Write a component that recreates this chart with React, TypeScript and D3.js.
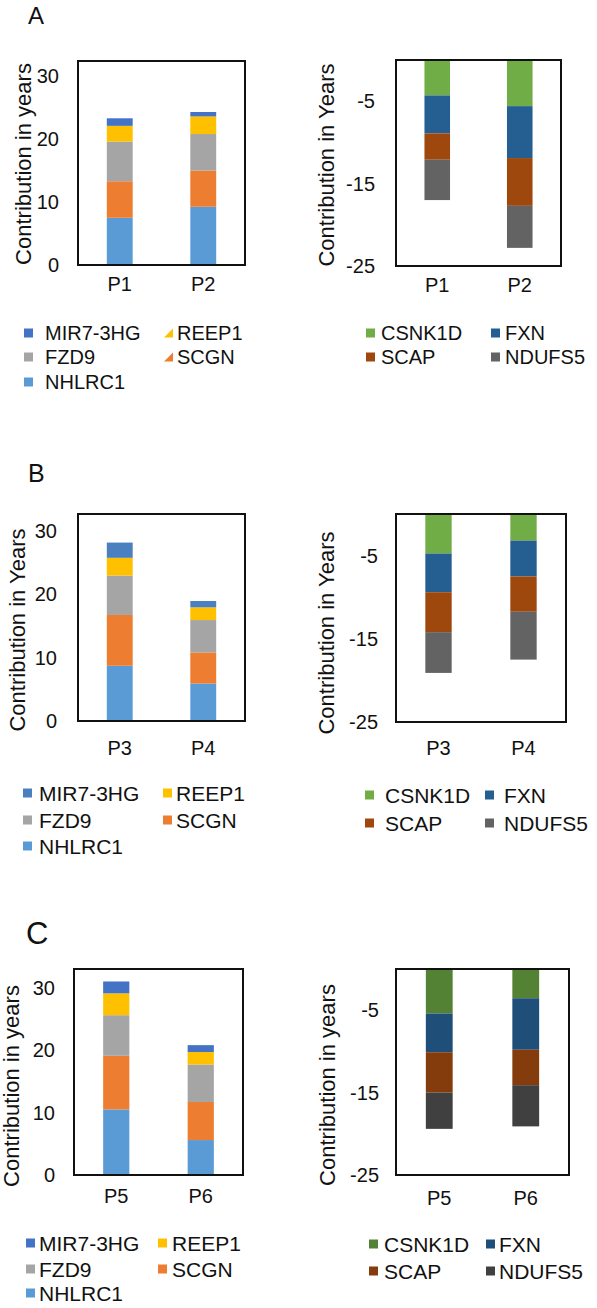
import React from "react";
import * as d3 from "d3";

// ---------- data ----------
const patients = ["P1", "P2", "P3", "P4", "P5", "P6"];
const panelLetters = ["A", "B", "C"];

// positive contributions (years), bottom -> top
const NHLRC1 = [7.5, 9.25, 8.7, 5.9, 10.5, 5.6];
const SCGN = [5.8, 5.75, 8.0, 4.9, 8.6, 6.1];
const FZD9 = [6.3, 5.8, 6.2, 5.1, 6.5, 6.0];
const REEP1 = [2.5, 2.8, 2.8, 2.0, 3.5, 2.0];
const MIR7_3HG = [1.2, 0.7, 2.4, 1.0, 1.9, 1.1];

// negative contributions (years), top -> bottom
const CSNK1D = [-4.3, -5.6, -4.75, -3.2, -5.4, -3.55];
const FXN = [-4.6, -6.3, -4.65, -4.3, -4.7, -6.25];
const SCAP = [-3.2, -5.8, -4.8, -4.25, -4.9, -4.3];
const NDUFS5 = [-4.9, -5.1, -4.9, -5.75, -4.4, -5.0];

const posKeys = ["NHLRC1", "SCGN", "FZD9", "REEP1", "MIR7-3HG"];
const negKeys = ["CSNK1D", "FXN", "SCAP", "NDUFS5"];
const posSeries: Record<string, number[]> = {
  NHLRC1, SCGN, FZD9, REEP1, "MIR7-3HG": MIR7_3HG,
};
const negSeries: Record<string, number[]> = { CSNK1D, FXN, SCAP, NDUFS5 };

const posTicks = [0, 10, 20, 30];
const negTicks = [-5, -15, -25];

const leftTitles = ["Contribution in years", "Contribution in Years", "Contribution in years"];
const rightTitles = ["Contribution in Years", "Contribution in Years", "Contribution in years"];

// legend order (row-major, 2 columns)
const posLegend = ["MIR7-3HG", "REEP1", "FZD9", "SCGN", "NHLRC1"];
const negLegend = ["CSNK1D", "FXN", "SCAP", "NDUFS5"];

// ---------- styles ----------
const FONT = "'Liberation Sans', Arial, Helvetica, sans-serif";

const posColors = [
  { NHLRC1: "#5B9BD5", SCGN: "#ED7D31", FZD9: "#A5A5A5", REEP1: "#FFC000", "MIR7-3HG": "#4472C4" },
  { NHLRC1: "#5B9BD5", SCGN: "#ED7D31", FZD9: "#A5A5A5", REEP1: "#FFC000", "MIR7-3HG": "#4A80BF" },
  { NHLRC1: "#5B9BD5", SCGN: "#ED7D31", FZD9: "#A5A5A5", REEP1: "#FFC000", "MIR7-3HG": "#4472C4" },
];
const negColors = [
  { CSNK1D: "#70AD47", FXN: "#255E91", SCAP: "#9E480E", NDUFS5: "#636363" },
  { CSNK1D: "#70AD47", FXN: "#255E91", SCAP: "#9E480E", NDUFS5: "#636363" },
  { CSNK1D: "#548235", FXN: "#1F4E79", SCAP: "#843C0C", NDUFS5: "#404040" },
];

type Frame = { x0: number; x1: number; y0: number; y1: number };

const layout = [
  {
    letter: { x: 28, y: 24, size: 24 },
    left: { x0: 78, x1: 245, y0: 61, y1: 265 }, leftMax: 32.4,
    right: { x0: 396, x1: 561, y0: 60, y1: 266 },
    leftTickX: 59, rightTickX: 375,
    leftTitle: { x: 31, y: 164, size: 22 }, rightTitle: { x: 334, y: 165, size: 22 },
    labelY: 291, rightLabelY: 292,
    legL: { sq: [24, 164], tx: [45, 177], rows: [333, 357, 382], size: 20, tri: true },
    legR: { sq: [366, 491], tx: [381, 505], rows: [333, 357], size: 20 },
  },
  {
    letter: { x: 28, y: 482, size: 25 },
    left: { x0: 78, x1: 245, y0: 514, y1: 721 }, leftMax: 32.6,
    right: { x0: 396, x1: 566, y0: 514, y1: 722 },
    leftTickX: 57, rightTickX: 378,
    leftTitle: { x: 25, y: 630, size: 22 }, rightTitle: { x: 334, y: 633, size: 22 },
    labelY: 755, rightLabelY: 755,
    legL: { sq: [23, 163], tx: [39, 176], rows: [793, 820, 846], size: 21, tri: false },
    legR: { sq: [365, 485], tx: [385, 504], rows: [795, 823], size: 21 },
  },
  {
    letter: { x: 26, y: 944, size: 31 },
    left: { x0: 74, x1: 243, y0: 969, y1: 1175 }, leftMax: 33,
    right: { x0: 396, x1: 569, y0: 969, y1: 1175 },
    leftTickX: 55, rightTickX: 379,
    leftTitle: { x: 19, y: 1086, size: 22 }, rightTitle: { x: 335, y: 1085, size: 22 },
    labelY: 1203, rightLabelY: 1205,
    legL: { sq: [26, 158], tx: [39, 172], rows: [1243, 1269, 1293], size: 21, tri: false },
    legR: { sq: [369, 486], tx: [384, 499], rows: [1244, 1271], size: 21 },
  },
];

function StackedChart(props: {
  cats: string[];
  idx: number[];
  keys: string[];
  series: Record<string, number[]>;
  colors: Record<string, string>;
  frame: Frame;
  domain: [number, number];
  ticks: number[];
  tickX: number;
  title: { x: number; y: number; size: number };
  titleText: string;
  labelY: number;
}) {
  const { cats, idx, keys, series, colors, frame, domain, ticks, tickX, title, titleText, labelY } = props;
  const rows = cats.map((c, i) => {
    const r: any = { cat: c };
    keys.forEach((k) => (r[k] = series[k][idx[i]]));
    return r;
  });
  const stacked = d3.stack<any>().keys(keys).offset(d3.stackOffsetDiverging)(rows);
  const x = d3
    .scaleBand<string>()
    .domain(cats)
    .range([frame.x0, frame.x1])
    .paddingInner(0.69)
    .paddingOuter(0.345);
  const y = d3.scaleLinear().domain(domain).range([frame.y1, frame.y0]);
  return (
    <g>
      <rect x={frame.x0} y={frame.y0} width={frame.x1 - frame.x0} height={frame.y1 - frame.y0} fill="#fff" />
      {stacked.map((s) => (
        <g key={s.key}>
          {s.map((d, i) => (
            <rect
              key={i}
              x={x(d.data.cat)}
              width={x.bandwidth()}
              y={y(Math.max(d[0], d[1]))}
              height={Math.abs(y(d[0]) - y(d[1]))}
              fill={colors[s.key]}
            />
          ))}
        </g>
      ))}
      <rect
        x={frame.x0}
        y={frame.y0}
        width={frame.x1 - frame.x0}
        height={frame.y1 - frame.y0}
        fill="none"
        stroke="#111"
        strokeWidth={2}
      />
      {ticks.map((t) => (
        <text key={t} x={tickX} y={y(t)} dy="0.35em" textAnchor="end" fontSize={20} fontFamily={FONT} fill="#111">
          {t}
        </text>
      ))}
      {cats.map((c) => (
        <text
          key={c}
          x={(x(c) as number) + x.bandwidth() / 2}
          y={labelY}
          textAnchor="middle"
          fontSize={20}
          fontFamily={FONT}
          fill="#111"
        >
          {c}
        </text>
      ))}
      <text
        transform={`translate(${title.x},${title.y}) rotate(-90)`}
        textAnchor="middle"
        fontSize={title.size}
        fontFamily={FONT}
        fill="#111"
      >
        {titleText}
      </text>
    </g>
  );
}

function Legend(props: {
  items: string[];
  colors: Record<string, string>;
  sq: number[];
  tx: number[];
  rows: number[];
  size: number;
  tri?: boolean;
}) {
  const { items, colors, sq, tx, rows, size, tri } = props;
  const s = 9;
  return (
    <g>
      {items.map((it, i) => {
        const col = i % 2;
        const row = Math.floor(i / 2);
        const cy = rows[row];
        const sx = sq[col];
        const useTri = tri && col === 1;
        return (
          <g key={it}>
            {useTri ? (
              <path d={`M${sx + s},${cy - s / 2} L${sx + s},${cy + s / 2} L${sx},${cy + s / 2} Z`} fill={colors[it]} />
            ) : (
              <rect x={sx} y={cy - s / 2} width={s} height={s} fill={colors[it]} />
            )}
            <text x={tx[col]} y={cy} dy="0.36em" fontSize={size} fontFamily={FONT} fill="#111">
              {it}
            </text>
          </g>
        );
      })}
    </g>
  );
}

export default function App() {
  return (
    <svg
      width={597}
      height={1308}
      viewBox="0 0 597 1308"
      style={{ position: "absolute", left: 0, top: 0, background: "#fff" }}
    >
      <rect x={0} y={0} width={597} height={1308} fill="#fff" />
      {layout.map((L, p) => {
        const cats = patients.slice(p * 2, p * 2 + 2);
        const idx = [p * 2, p * 2 + 1];
        return (
          <g key={p}>
            <text x={L.letter.x} y={L.letter.y} fontSize={L.letter.size} fontFamily={FONT} fill="#111">
              {panelLetters[p]}
            </text>
            <StackedChart
              cats={cats}
              idx={idx}
              keys={posKeys}
              series={posSeries}
              colors={posColors[p]}
              frame={L.left}
              domain={[0, L.leftMax]}
              ticks={posTicks}
              tickX={L.leftTickX}
              title={L.leftTitle}
              titleText={leftTitles[p]}
              labelY={L.labelY}
            />
            <StackedChart
              cats={cats}
              idx={idx}
              keys={negKeys}
              series={negSeries}
              colors={negColors[p]}
              frame={L.right}
              domain={[-25, 0]}
              ticks={negTicks}
              tickX={L.rightTickX}
              title={L.rightTitle}
              titleText={rightTitles[p]}
              labelY={L.rightLabelY}
            />
            <Legend items={posLegend} colors={posColors[p]} {...L.legL} />
            <Legend items={negLegend} colors={negColors[p]} {...L.legR} />
          </g>
        );
      })}
    </svg>
  );
}
